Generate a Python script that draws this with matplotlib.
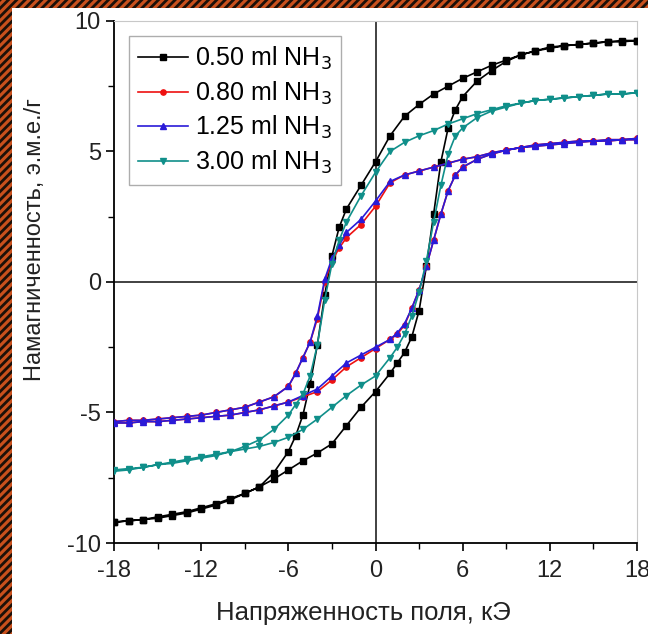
import numpy as np
import matplotlib
matplotlib.use('Agg')
import matplotlib.pyplot as plt
from matplotlib.patches import Rectangle

plt.rcParams['font.family'] = ['Liberation Sans', 'DejaVu Sans']
plt.rcParams['hatch.linewidth'] = 2.0

# field grid for descending (18 -> -18) and ascending (-18 -> 18) branches, kOe
h_down = [18, 17, 16, 15, 14, 13, 12, 11, 10, 9, 8, 7, 6, 5, 4, 3, 2, 1, 0, -1, -2, -2.5,
          -3, -3.5, -4, -4.5, -5, -5.5, -6, -7, -8, -9, -10, -11, -12, -13, -14, -15, -16, -17, -18]
h_up = [-18, -17, -16, -15, -14, -13, -12, -11, -10, -9, -8, -7, -6, -5, -4, -3, -2, -1, 0, 1, 1.5,
        2, 2.5, 3, 3.5, 4, 4.5, 5, 5.5, 6, 7, 8, 9, 10, 11, 12, 13, 14, 15, 16, 17, 18]

# 0.50 ml NH3
m050_down = [9.25, 9.2, 9.2, 9.15, 9.1, 9.05, 9.0, 8.85, 8.7, 8.5, 8.3, 8.05, 7.8, 7.5, 7.2, 6.8, 6.35,
             5.6, 4.6, 3.7, 2.8, 2.1, 1.0, -0.5, -2.4, -3.9, -5.1, -5.9, -6.5, -7.3, -7.85, -8.1, -8.35,
             -8.55, -8.7, -8.85, -8.95, -9.05, -9.1, -9.15, -9.2]
m050_up = [-9.2, -9.15, -9.1, -9.0, -8.9, -8.8, -8.65, -8.5, -8.3, -8.1, -7.85, -7.55, -7.2, -6.85,
           -6.55, -6.2, -5.5, -4.8, -4.2, -3.5, -3.1, -2.7, -2.1, -1.1, 0.6, 2.6, 4.6, 5.9, 6.6, 7.1,
           7.7, 8.1, 8.45, 8.7, 8.85, 8.95, 9.05, 9.1, 9.15, 9.2, 9.25, 9.25]

# 0.80 ml NH3
m080_down = [5.45, 5.45, 5.4, 5.4, 5.35, 5.3, 5.25, 5.2, 5.15, 5.05, 4.95, 4.8, 4.7, 4.55, 4.4, 4.25,
             4.1, 3.8, 2.9, 2.2, 1.7, 1.3, 0.8, 0.0, -1.4, -2.3, -2.9, -3.5, -4.0, -4.4, -4.6, -4.8,
             -4.9, -5.0, -5.1, -5.15, -5.2, -5.25, -5.3, -5.3, -5.35]
m080_up = [-5.4, -5.4, -5.35, -5.35, -5.3, -5.25, -5.2, -5.15, -5.1, -5.0, -4.9, -4.75, -4.6, -4.4,
           -4.2, -3.75, -3.25, -2.9, -2.55, -2.2, -2.0, -1.65, -1.0, -0.3, 0.6, 1.6, 2.6, 3.5, 4.1,
           4.4, 4.7, 4.9, 5.05, 5.15, 5.25, 5.3, 5.35, 5.4, 5.4, 5.45, 5.45, 5.5]

# 1.25 ml NH3
m125_down = [5.45, 5.45, 5.4, 5.4, 5.35, 5.3, 5.25, 5.2, 5.15, 5.05, 4.95, 4.8, 4.7, 4.55, 4.4, 4.25,
             4.1, 3.85, 3.1, 2.4, 1.9, 1.4, 0.9, 0.1, -1.3, -2.3, -2.9, -3.5, -4.0, -4.4, -4.6, -4.8,
             -4.9, -5.0, -5.1, -5.15, -5.2, -5.25, -5.3, -5.3, -5.35]
m125_up = [-5.4, -5.4, -5.35, -5.35, -5.3, -5.25, -5.2, -5.15, -5.1, -5.0, -4.9, -4.75, -4.6, -4.35,
           -4.1, -3.6, -3.1, -2.8, -2.5, -2.2, -1.95, -1.6, -1.0, -0.3, 0.6, 1.6, 2.6, 3.5, 4.1,
           4.4, 4.7, 4.9, 5.05, 5.15, 5.25, 5.3, 5.35, 5.4, 5.4, 5.45, 5.45, 5.5]

# 3.00 ml NH3
m300_down = [7.25, 7.2, 7.2, 7.15, 7.1, 7.05, 7.0, 6.95, 6.85, 6.75, 6.6, 6.45, 6.25, 6.05, 5.8, 5.6,
             5.35, 5.0, 4.2, 3.3, 2.3, 1.6, 0.7, -0.7, -2.4, -3.6, -4.3, -4.7, -5.1, -5.65, -6.05,
             -6.3, -6.5, -6.65, -6.75, -6.85, -6.95, -7.0, -7.1, -7.15, -7.2]
m300_up = [-7.25, -7.2, -7.1, -7.0, -6.9, -6.8, -6.7, -6.6, -6.5, -6.4, -6.3, -6.15, -5.95, -5.65,
           -5.25, -4.8, -4.35, -3.95, -3.6, -2.9, -2.5, -2.0, -1.3, -0.4, 0.8, 2.3, 3.7, 4.9, 5.6,
           5.9, 6.3, 6.55, 6.7, 6.85, 6.95, 7.0, 7.05, 7.1, 7.15, 7.2, 7.2, 7.25]

labels = ['0.50 ml NH$_3$', '0.80 ml NH$_3$', '1.25 ml NH$_3$', '3.00 ml NH$_3$']
colors = ['#000000', '#ee1111', '#2a1ad8', '#108f8a']
markers = ['s', 'o', '^', 'v']
series = [(m050_down, m050_up), (m080_down, m080_up), (m125_down, m125_up), (m300_down, m300_up)]

xticks = [-18, -12, -6, 0, 6, 12, 18]
yticks = [-10, -5, 0, 5, 10]

fig = plt.figure(figsize=(6.48, 6.34), dpi=100)
ax = fig.add_axes([0.176, 0.1435, 0.807, 0.8235])

ax.axhline(0, color='#333333', lw=1.3, zorder=1)
ax.axvline(0, color='#333333', lw=1.3, zorder=1)

for (down, up), lab, c, mk in zip(series, labels, colors, markers):
    h = h_down + h_up
    m = down + up
    ax.plot(h, m, color=c, lw=1.2, marker=mk, ms=3.8, label=lab, zorder=3)

ax.set_xlim(-18, 18)
ax.set_ylim(-10, 10)
ax.set_xticks(xticks)
ax.set_xticklabels([str(t) for t in xticks])
ax.set_xticks([-15, -9, -3, 3, 9, 15], minor=True)
ax.set_yticks(yticks)
ax.set_yticklabels([str(t) for t in yticks])
ax.set_yticks([-7.5, -2.5, 2.5, 7.5], minor=True)
ax.tick_params(which='major', direction='out', length=6, width=1.2, labelsize=17,
               labelcolor='#222222')
ax.tick_params(axis='x', which='major', pad=6)
ax.tick_params(which='minor', direction='out', length=4, width=1.0)
ax.tick_params(top=False, right=False)
for s in ['top', 'right']:
    ax.spines[s].set_color('#c8c8c8')
for s in ['left', 'bottom']:
    ax.spines[s].set_linewidth(1.3)

leg = ax.legend(loc='upper left', fontsize=18, frameon=True, fancybox=False,
                edgecolor='#999999', handlelength=2.0, borderpad=0.35, labelspacing=0.3,
                handletextpad=0.3, bbox_to_anchor=(0.005, 0.995))
leg.get_frame().set_linewidth(1.0)

fig.text(35 / 648, 1 - 240 / 634, 'Намагниченность, э.м.е./г', rotation=90,
         ha='center', va='center', fontsize=17, color='#222222')
fig.text(363 / 648, 1 - 613 / 634, 'Напряженность поля, кЭ',
         ha='center', va='center', fontsize=18.5, color='#222222')

# hatched frame at top and left edge
fig.patches.append(Rectangle((0, 1 - 8 / 634), 1, 8 / 634, transform=fig.transFigure,
                             facecolor='#c9501c', edgecolor='#1c1008', hatch='////', lw=0))
fig.patches.append(Rectangle((0, 0), 12 / 648, 1, transform=fig.transFigure,
                             facecolor='#c9501c', edgecolor='#1c1008', hatch='////', lw=0))

fig.savefig('out.png', dpi=100)
